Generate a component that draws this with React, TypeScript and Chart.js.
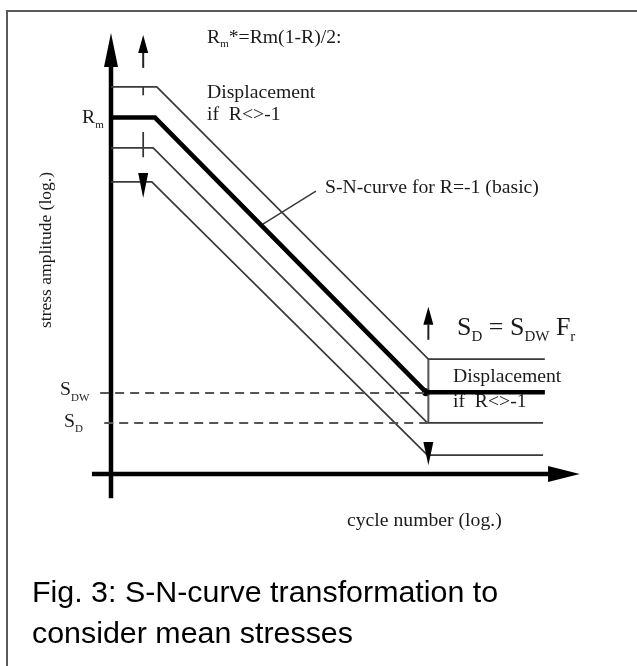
import { useEffect, useRef } from "react";
import { Chart, registerables } from "chart.js";

Chart.register(...registerables);

// log cycle number (x) / log stress amplitude (y)
const upperX = [0, 1.01, 7.0, 9.57];
const upperY = [8.8, 8.8, 2.61, 2.61];
const basicX = [0, 0.97, 6.95, 9.57];
const basicY = [8.1, 8.1, 1.86, 1.86];
const lowerX = [0, 0.93, 6.98, 9.53];
const lowerY = [7.41, 7.41, 1.16, 1.16];
const lowestX = [0, 0.9, 6.98, 9.53];
const lowestY = [6.64, 6.64, 0.43, 0.43];

const sdwX = [-0.24, 6.95];
const sdwY = [1.84, 1.84];
const sdX = [-0.15, 6.98];
const sdY = [1.16, 1.16];

const yAxisX = [0, 0];
const yAxisY = [-0.55, 9.3];
const xAxisX = [-0.42, 9.66];
const xAxisY = [0, 0];

const kneeX = [6.95];
const kneeY = [1.86];

// small marker segments
const markLeftX = [0.71, 0.71];
const markUpShaftY = [9.23, 9.57];
const markTick1Y = [8.8, 8.61];
const markTick2Y = [7.77, 7.2];
const markKneeX = [7.0, 7.0];
const markKneeShaftY = [3.05, 3.39];
const markKneeVertY = [2.61, 1.16];
const leaderX = [3.35, 4.52];
const leaderY = [5.68, 6.43];

// vertical arrow heads: x, base y, tip y
const vArrowX = [0, 0.71, 0.71, 7.0, 7.0];
const vArrowBase = [9.25, 9.57, 6.84, 3.39, 0.73];
const vArrowTip = [10.02, 9.98, 6.27, 3.8, 0.2];
const vArrowHalf = [7, 5, 5, 5, 5];
// horizontal arrow head (x axis)
const hArrowY = [0];
const hArrowBase = [9.64];
const hArrowTip = [10.34];

const SERIF = "'Liberation Serif', 'Times New Roman', serif";
const SANS = "'Liberation Sans', Arial, sans-serif";
const INK = "#1b1b1b";
const THIN = "#3a3a3a";
const FS = 19.7;

function pts(xs: number[], ys: number[]) {
  return xs.map((x, i) => ({ x, y: ys[i] }));
}

function seg(xs: number[], ys: number[], color: string, width: number, dash: number[] = []) {
  return {
    data: pts(xs, ys),
    showLine: true,
    borderColor: color,
    borderWidth: width,
    borderDash: dash,
    pointRadius: 0,
    borderCapStyle: "butt",
    borderJoinStyle: "miter",
    clip: false,
    tension: 0,
  } as any;
}

function runs(ctx: CanvasRenderingContext2D, x: number, y: number, parts: [string, number, number][]) {
  let cx = x;
  for (const [t, size, dy] of parts) {
    ctx.font = `${size}px ${SERIF}`;
    ctx.fillText(t, cx, y + dy);
    cx += ctx.measureText(t).width;
  }
}

const decorPlugin = {
  id: "decor",
  beforeDraw(chart: any) {
    const ctx = chart.ctx as CanvasRenderingContext2D;
    ctx.save();
    ctx.fillStyle = "#fff";
    ctx.fillRect(0, 0, chart.width, chart.height);
    ctx.strokeStyle = "#5a5a5a";
    ctx.lineWidth = 2;
    ctx.beginPath();
    ctx.moveTo(7, chart.height + 2);
    ctx.lineTo(7, 11);
    ctx.lineTo(chart.width + 2, 11);
    ctx.stroke();
    ctx.restore();
  },
  beforeDatasetsDraw(chart: any) {
    const ctx = chart.ctx as CanvasRenderingContext2D;
    ctx.save();
    ctx.fillStyle = INK;
    ctx.textAlign = "left";
    ctx.textBaseline = "alphabetic";
    runs(ctx, 207, 43, [["R", FS, 0], ["m", 11, 4], ["*=Rm(1-R)/2:", FS, 0]]);
    ctx.font = `${FS}px ${SERIF}`;
    ctx.fillText("Displacement", 207, 98);
    ctx.fillText("if  R<>-1", 207, 120);
    runs(ctx, 82, 123, [["R", FS, 0], ["m", 11, 5]]);
    ctx.font = `${FS}px ${SERIF}`;
    ctx.fillText("S-N-curve for R=-1 (basic)", 325, 193);
    runs(ctx, 60, 395, [["S", FS, 0], ["DW", 11, 6]]);
    runs(ctx, 64, 427, [["S", FS, 0], ["D", 11, 5]]);
    runs(ctx, 457, 335, [["S", 26, 0], ["D", 15, 6], [" = S", 26, 0], ["DW", 15, 6], [" F", 26, 0], ["r", 15, 6]]);
    ctx.font = `${FS}px ${SERIF}`;
    ctx.fillText("Displacement", 453, 382);
    ctx.fillText("if  R<>-1", 453, 407);
    ctx.fillText("cycle number (log.)", 347, 526);
    ctx.save();
    ctx.translate(51, 250);
    ctx.rotate(-Math.PI / 2);
    ctx.textAlign = "center";
    ctx.font = `17.5px ${SERIF}`;
    ctx.fillText("stress amplitude (log.)", 0, 0);
    ctx.restore();
    ctx.fillStyle = "#000";
    ctx.font = `30.4px ${SANS}`;
    ctx.fillText("Fig. 3: S-N-curve transformation to", 32, 602);
    ctx.fillText("consider mean stresses", 32, 643);
    ctx.restore();
  },
  afterDatasetsDraw(chart: any) {
    const ctx = chart.ctx as CanvasRenderingContext2D;
    const xs = chart.scales.x;
    const ys = chart.scales.y;
    ctx.save();
    ctx.fillStyle = "#000";
    vArrowX.forEach((vx, i) => {
      const px = xs.getPixelForValue(vx);
      const pb = ys.getPixelForValue(vArrowBase[i]);
      const pt = ys.getPixelForValue(vArrowTip[i]);
      const h = vArrowHalf[i];
      ctx.beginPath();
      ctx.moveTo(px, pt);
      ctx.lineTo(px - h, pb);
      ctx.lineTo(px + h, pb);
      ctx.closePath();
      ctx.fill();
    });
    hArrowY.forEach((hy, i) => {
      const py = ys.getPixelForValue(hy);
      const pb = xs.getPixelForValue(hArrowBase[i]);
      const pt = xs.getPixelForValue(hArrowTip[i]);
      ctx.beginPath();
      ctx.moveTo(pt, py);
      ctx.lineTo(pb, py - 8);
      ctx.lineTo(pb, py + 8);
      ctx.closePath();
      ctx.fill();
    });
    ctx.restore();
  },
};

export default function App() {
  const ref = useRef<HTMLCanvasElement>(null);
  useEffect(() => {
    if (!ref.current) return;
    const chart = new Chart(ref.current, {
      type: "scatter",
      data: {
        datasets: [
          seg(sdwX, sdwY, "#555", 2, [9, 6]),
          seg(sdX, sdY, "#555", 2, [9, 6]),
          seg(upperX, upperY, THIN, 1.7),
          seg(lowerX, lowerY, THIN, 1.7),
          seg(lowestX, lowestY, THIN, 1.7),
          seg(basicX, basicY, "#000", 4.5),
          seg(yAxisX, yAxisY, "#000", 4.5),
          seg(xAxisX, xAxisY, "#000", 4.5),
          seg(markLeftX, markUpShaftY, "#222", 2),
          seg(markLeftX, markTick1Y, "#333", 1.7),
          seg(markLeftX, markTick2Y, "#333", 1.7),
          seg(markKneeX, markKneeShaftY, "#222", 2),
          seg(markKneeX, markKneeVertY, "#555", 2),
          seg(leaderX, leaderY, THIN, 1.5),
          {
            data: pts(kneeX, kneeY),
            pointRadius: 4,
            pointBackgroundColor: "#000",
            pointBorderWidth: 0,
            clip: false,
          } as any,
        ],
      },
      options: {
        responsive: false,
        animation: false,
        devicePixelRatio: 1,
        events: [],
        layout: { padding: { left: 111, right: 54.5, top: 34, bottom: 192 } },
        plugins: { legend: { display: false }, tooltip: { enabled: false } },
        scales: {
          x: { type: "linear", min: 0, max: 10.4, display: false },
          y: { type: "linear", min: 0, max: 10, display: false },
        },
      },
      plugins: [decorPlugin],
    });
    return () => chart.destroy();
  }, []);
  return (
    <div style={{ position: "absolute", left: 0, top: 0, width: 637, height: 666, background: "#fff" }}>
      <canvas ref={ref} width={637} height={666} style={{ display: "block", width: 637, height: 666 }} />
    </div>
  );
}
